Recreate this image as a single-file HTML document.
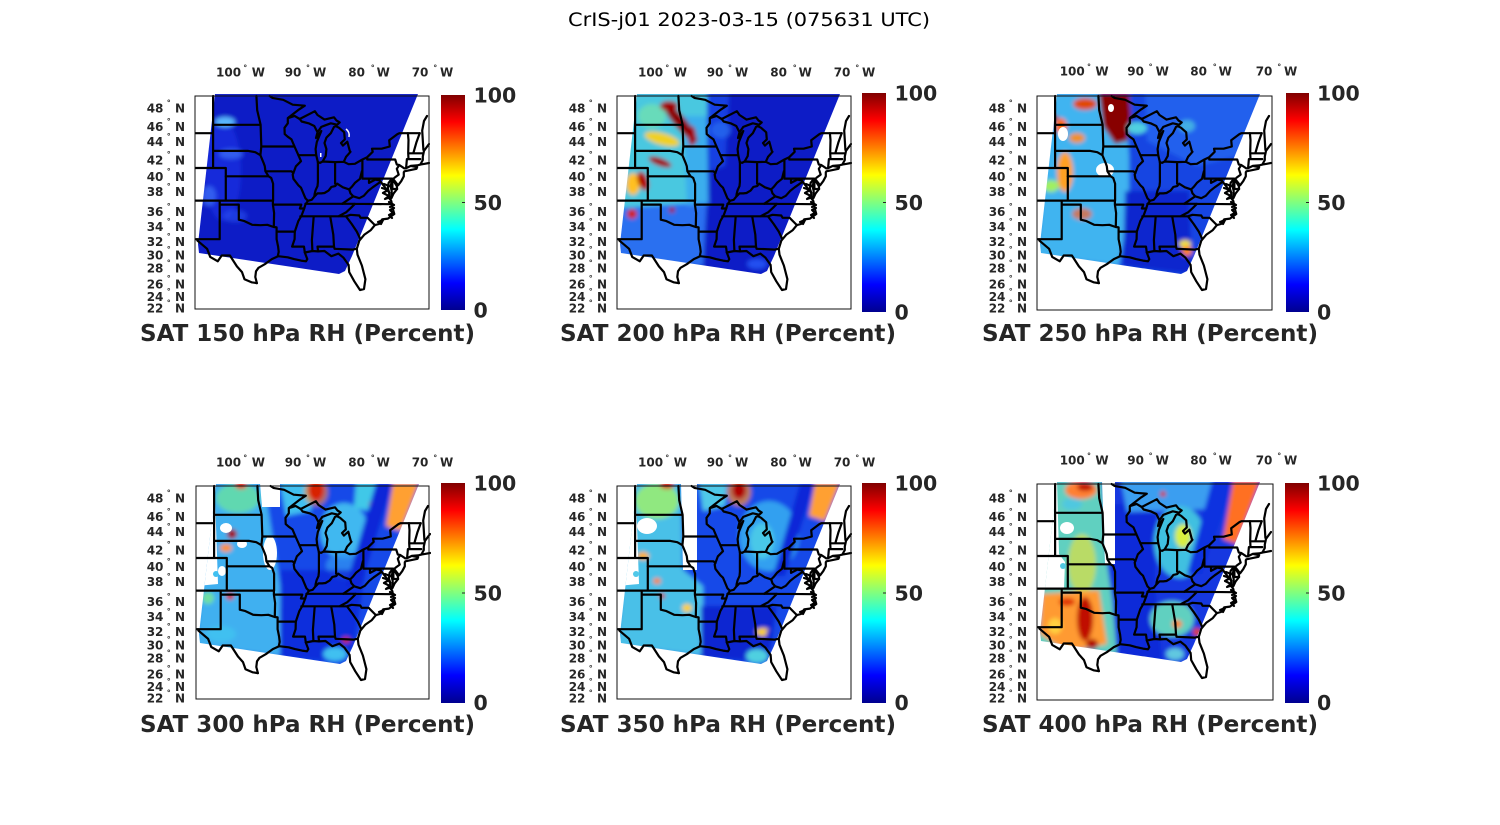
<!DOCTYPE html>
<html><head><meta charset="utf-8"><style>
html,body{margin:0;padding:0;background:#fff;}
svg{display:block;}
</style></head><body>
<svg width="1500" height="825" viewBox="0 0 1500 825" xmlns="http://www.w3.org/2000/svg" font-family="'DejaVu Sans','Liberation Sans',sans-serif">
<defs>
<linearGradient id="jet" x1="0" y1="1" x2="0" y2="0">
<stop offset="0" stop-color="#00008f"/><stop offset="0.125" stop-color="#0000ff"/><stop offset="0.375" stop-color="#00ffff"/><stop offset="0.625" stop-color="#ffff00"/><stop offset="0.875" stop-color="#ff0000"/><stop offset="1" stop-color="#800000"/>
</linearGradient>
<clipPath id="sw"><path d="M20,-2L223,-2L157,160L150,175L144,178L4,157L3,148Z"/></clipPath>
<clipPath id="ax"><rect x="0" y="-2" width="235" height="216"/></clipPath>
<filter id="bl" x="-10%" y="-10%" width="120%" height="120%"><feGaussianBlur stdDeviation="2"/></filter>
<g id="map" fill="none" stroke="#000" stroke-width="2.2" stroke-linejoin="round" stroke-linecap="round">
<path d="M0,37.2H18.1M18.1,0V72M0,72H30.8V104.6M0,104.6H77.9M24.7,104.6V143.2M24.7,108.6H43.8V123.7L48.9,124.9L57.1,128.8L65.4,129.2L72.3,128.8L78.7,131L81.6,131.4V143.2L83.1,150.6L83.7,155.8L82.8,160.2M0,143.2H24.4M1.9,143.2L2.5,144.7L12.1,152.8L15.2,160.9L22.8,165.3L26.7,159.5L34.9,159.5L41.9,170.4L47,176.1L49.5,183.2L56.5,186.3L61.9,187.1"/>
<path d="M61.9,187.1L60.3,181L61,175.3L63.5,171.8L69.8,168.2L76.8,163.1L83.1,160.2L92.7,161.3L99,163.1L106,164.6L111,165.3L112.3,163.1L109.8,156.5L117.4,155L123.1,155.4L129.5,155L136.4,160.2L143.4,157.6L148.5,161.7L153.6,168.9L154.2,176.1L159.3,185.3L165,194L169,193L170.4,183.2L166.9,169.6L162.5,158.7L161.8,152.8L164.3,144.7L169.4,138.6L175.8,134.1L179.9,129.1L184,128L187.2,123.4L192.9,122.6L199.3,118L197.3,110.9L196.4,105.4L196.1,104.6L194.2,102.2L194.2,96.6L192.9,92.6L193.6,86.9L195.5,84.4L196.7,86L195.5,90.1L196.7,95L196.4,102.2L198.6,97.4L202.1,93L201.8,90.1L199.3,86L198.6,83.6L203.1,89.3L206.2,85.2L208.8,80.3L208.8,76.2L209.4,75.3L221.5,72.8L222.1,71.2L215.8,69.9L210.7,72.4M215.8,69.9L222.1,69.4L225.3,68.6L229.7,67.8L234,67M225.3,68.6L227.8,64L227.8,60.5L229,54.9L232.8,49.6L234,48"/>
<path d="M187,92L193,94L188,97L194,100L190,103L196,101M199,112L195,114L198,117L194,119L197,122M194,106L199,109L195,111M189,88L194,90M183,126L188,124L186,128"/>
<path d="M18.1,28.8H65.6M61.4,0L62.2,14.3L65.6,28.8L66.3,50.5M18.1,54.9H53.3L60.3,56.2L65.4,59.2L68.6,66.9L69.8,70.3L70.4,75.3L73.6,80.3L76.2,81.9L78.1,87.7V104.6M66.3,50.5L65.4,59.2M66.3,50.5H99.5M30.8,80.3H73.6M70.4,75.3H96.5L98.4,77"/>
<path d="M93.9,21.3L92.8,22L92.8,27.3L89.5,31.8L89.7,38.1L92.7,40.7L96.5,43.4L99.5,50.5L103.4,59.2L106,65.2L100.9,70.3L98.4,77L97.7,78.6L98.4,82.8L103.4,89.3L106,91.7L110.4,102.2L112.9,104.8L110.4,108.6L109.2,112.5L106.6,119.5L103.4,124.9L99.8,135.6L99.6,143.2L97.1,150.6H109L109.8,156.5"/>
<path d="M77.9,108.6H106.3L104.9,112.5H109.2M77.9,104.6V108.6L79.1,117L78.8,130.8M81.6,135.6H99.8M105.3,120.3H151M118.7,120.3L116.9,143.9L117.4,155M135.2,120.3L138.3,138.6L139,150.6L139.6,152.8L158,153.6L161.2,152.8M122.5,150.6H139M122.5,150.6L123.1,155.4M151,120.3L156.7,128L161.8,135.6L165,142.4M151,120.3L155.5,118.8L164.3,119.5L165.6,121.8L172.6,121.8L179.9,129.1M159.9,107.8L156.1,111.7L151,116.4L143.4,120.3M110.4,107.8H159.9L196.7,108.2"/>
<path d="M112.9,104.8L116.7,103.8L119.3,100.6L122.5,97.4L126.3,97.4L129.5,97L133.6,94.6L136.4,90.9L140.2,90.1L142.2,87.7L147.9,91.3L154.2,93.4L156.7,90.9L159.9,86.9L165,82.8L166.9,75.3M122.9,66.1V86L122.5,90.1L120.6,94.2L119.6,98.2L119.3,100.6M103.4,59.2H121.2"/>
<path d="M122.9,66.1L121.2,59.2L120.6,53.1L121.8,46.1L126.3,35L121,42L122.5,36.3L119.3,30L113.6,27.3L106.6,25.5L104.7,23L99.6,19.9L93.9,21.8M93.9,21.3L104.1,13.4L109.8,9.7L97.7,8.7L88.2,3.8L77.4,1.9L74.6,0M104.7,23L119.9,15.2L122.5,19L129.5,23.6L139,21.3L141.5,24.5L144.7,26.4L142.2,28.7L135.8,27.3L130.7,29.2L126.3,30.9L122.5,36.3"/>
<path d="M122.9,66.1L125,66.9L127.6,65.5L130.7,60.1L131.4,53.1L129.5,47L131.4,41.6L135.8,37.2L139,30.9L140.9,30.1L144.1,31.8L149.2,36.3L149.8,43.4L146,47L147.9,49.6L152.3,45.7L154.8,54.9L155.5,55.8L151,60.9L148.8,65.8M127.6,65.5L140.2,66.1L148.8,65.8M140.1,66.1V87.7"/>
<path d="M148.8,65.8L153.6,68.2L159.9,67.8L167.4,63.5L172.2,61.2L177.7,55.8L177,52.7L186.6,52.7L194.8,50.5L194.2,44.3L202.4,38.1L204.3,37.2H224.7M167.4,63.5V82.6H197.4V93H202.1M172.2,61.2V63.5H200.2L201.8,68.6L204.3,69L209.4,72.4M204.3,69L201.8,72.8L203.7,78.6L199.3,81.9"/>
<path d="M174,82.6V86.9L180.2,83.6L184.7,84.4L188.4,89.3L194.2,96.6M185.3,86L177.7,91.3L173.2,94.9L168.8,99.8L164.3,102.2L158.2,100.3L147.2,107.8M154.2,93.4L155.5,97.4L158.2,100.3"/>
<path d="M211.1,72L211.9,63.1H225.3M213.5,63.1L213.2,57.1L213.5,44L212.9,37.2M213.4,57.3H227.2M218.3,57.3L221.5,46.1L224.7,37.2M228.4,53.9L227.2,34.5L229,25L232,20"/>
</g>
</defs>

<!-- Main title -->
<text x="568" y="26" font-size="19" fill="#000" textLength="362" lengthAdjust="spacingAndGlyphs">CrIS-j01 2023-03-15 (075631 UTC)</text>

<!-- ============ PANEL 1 ============ -->
<g transform="translate(195,96)">
<g clip-path="url(#sw)">
<g filter="url(#bl)">
<rect x="-5" y="-5" width="245" height="190" fill="#0b1bc6"/>
<ellipse cx="28" cy="75" rx="18" ry="50" fill="#1838e8" opacity=".6"/>
<ellipse cx="30" cy="26" rx="10" ry="5" fill="#5ab8ff"/>
<ellipse cx="36" cy="58" rx="12" ry="5" fill="#3a6af4" opacity=".8"/>
<ellipse cx="14" cy="100" rx="7" ry="10" fill="#3a6af4" opacity=".8"/>
<ellipse cx="40" cy="120" rx="12" ry="6" fill="#2a50f0" opacity=".6"/>
</g>
<path d="M151,33q4,3 3,8" stroke="#fff" stroke-width="1.5" fill="none"/>
<rect x="125" y="57" width="1.5" height="4" fill="#fff"/>
</g>
<g clip-path="url(#ax)"><use href="#map"/></g>
<rect x="0" y="0" width="234" height="213" fill="none" stroke="#111" stroke-width="1"/>
<g font-size="12" font-weight="bold" fill="#262626">
<text y="-19.5"><tspan x="21">100</tspan><tspan x="56.7">W</tspan><tspan x="89.7">90</tspan><tspan x="118">W</tspan><tspan x="153.3">80</tspan><tspan x="181.6">W</tspan><tspan x="216.7">70</tspan><tspan x="245">W</tspan></text>
<text><tspan x="-48.3" y="16.7">48</tspan><tspan x="-20" y="16.7">N</tspan><tspan x="-48.3" y="35.1">46</tspan><tspan x="-20" y="35.1">N</tspan><tspan x="-48.3" y="50.1">44</tspan><tspan x="-20" y="50.1">N</tspan><tspan x="-48.3" y="68.4">42</tspan><tspan x="-20" y="68.4">N</tspan><tspan x="-48.3" y="85.1">40</tspan><tspan x="-20" y="85.1">N</tspan><tspan x="-48.3" y="100.1">38</tspan><tspan x="-20" y="100.1">N</tspan><tspan x="-48.3" y="120.1">36</tspan><tspan x="-20" y="120.1">N</tspan><tspan x="-48.3" y="135.1">34</tspan><tspan x="-20" y="135.1">N</tspan><tspan x="-48.3" y="150.1">32</tspan><tspan x="-20" y="150.1">N</tspan><tspan x="-48.3" y="163.4">30</tspan><tspan x="-20" y="163.4">N</tspan><tspan x="-48.3" y="176.7">28</tspan><tspan x="-20" y="176.7">N</tspan><tspan x="-48.3" y="192.4">26</tspan><tspan x="-20" y="192.4">N</tspan><tspan x="-48.3" y="205.1">24</tspan><tspan x="-20" y="205.1">N</tspan><tspan x="-48.3" y="216.7">22</tspan><tspan x="-20" y="216.7">N</tspan></text>
</g>
<g font-size="8" font-weight="bold" fill="#262626">
<text y="-25.4"><tspan x="48.3">°</tspan><tspan x="111">°</tspan><tspan x="175.7">°</tspan><tspan x="238.3">°</tspan></text>
<text x="-28.3"><tspan x="-28.3" y="9.4">°</tspan><tspan x="-28.3" y="27.8">°</tspan><tspan x="-28.3" y="42.8">°</tspan><tspan x="-28.3" y="61.1">°</tspan><tspan x="-28.3" y="77.8">°</tspan><tspan x="-28.3" y="92.8">°</tspan><tspan x="-28.3" y="112.8">°</tspan><tspan x="-28.3" y="127.8">°</tspan><tspan x="-28.3" y="142.8">°</tspan><tspan x="-28.3" y="156.1">°</tspan><tspan x="-28.3" y="169.4">°</tspan><tspan x="-28.3" y="185.1">°</tspan><tspan x="-28.3" y="197.8">°</tspan><tspan x="-28.3" y="209.4">°</tspan></text>
</g>
</g>
<rect x="441" y="95" width="24" height="215" fill="url(#jet)"/>
<line x1="462" y1="202.5" x2="465" y2="202.5" stroke="#262626" stroke-width="1"/>
<g font-size="20.5" font-weight="bold" fill="#262626">
<text x="473.5" y="102.7">100</text><text x="473.5" y="210">50</text><text x="473.5" y="317.5">0</text>
</g>
<text x="140" y="341" font-size="22.8" font-weight="bold" fill="#262626" textLength="335" lengthAdjust="spacingAndGlyphs">SAT 150 hPa RH (Percent)</text>

<!-- ============ PANEL 2 ============ -->
<g transform="translate(617,96)">
<g clip-path="url(#sw)">
<g filter="url(#bl)">
<rect x="-5" y="-5" width="245" height="190" fill="#0b1bc6"/>
<path d="M0,100L90,100L86,170L0,165Z" fill="#2a70f0"/>
<path d="M15,-3L90,-3L90,106L3,112Z" fill="#48c8e0"/>
<path d="M66,20L90,20L92,108L70,110Z" fill="#38a8f0" opacity=".8"/>
<path d="M90,-3L112,-3L108,70L92,75Z" fill="#1a48e8" opacity=".8"/>
<ellipse cx="35" cy="20" rx="14" ry="12" fill="#70e0b0" opacity=".8"/>
<ellipse cx="45" cy="43" rx="18" ry="6" transform="rotate(15 45 43)" fill="#f0d020"/>
<ellipse cx="16" cy="88" rx="7" ry="11" fill="#ffc020"/>
<ellipse cx="63" cy="26" rx="6" ry="26" transform="rotate(-40 63 26)" fill="#8a0000"/>
<ellipse cx="52" cy="10" rx="9" ry="5" fill="#a00000"/>
<ellipse cx="75" cy="40" rx="4" ry="10" fill="#a00000"/>
<ellipse cx="43" cy="66" rx="12" ry="4" transform="rotate(20 43 66)" fill="#a00000"/>
<ellipse cx="26" cy="85" rx="5" ry="10" transform="rotate(-20 26 85)" fill="#b00000"/>
<ellipse cx="15" cy="118" rx="5" ry="5" fill="#d02000"/>
<ellipse cx="55" cy="114" rx="3" ry="3" fill="#a00000"/>
<ellipse cx="104" cy="34" rx="10" ry="8" fill="#2a70f0" opacity=".7"/>
<ellipse cx="140" cy="168" rx="10" ry="5" fill="#2050f0"/>
</g>
</g>
<g clip-path="url(#ax)"><use href="#map"/></g>
<rect x="0" y="0" width="234" height="213" fill="none" stroke="#111" stroke-width="1"/>
<g font-size="12" font-weight="bold" fill="#262626">
<text y="-19.5"><tspan x="21">100</tspan><tspan x="56.7">W</tspan><tspan x="89.7">90</tspan><tspan x="118">W</tspan><tspan x="153.3">80</tspan><tspan x="181.6">W</tspan><tspan x="216.7">70</tspan><tspan x="245">W</tspan></text>
<text><tspan x="-48.3" y="16.7">48</tspan><tspan x="-20" y="16.7">N</tspan><tspan x="-48.3" y="35.1">46</tspan><tspan x="-20" y="35.1">N</tspan><tspan x="-48.3" y="50.1">44</tspan><tspan x="-20" y="50.1">N</tspan><tspan x="-48.3" y="68.4">42</tspan><tspan x="-20" y="68.4">N</tspan><tspan x="-48.3" y="85.1">40</tspan><tspan x="-20" y="85.1">N</tspan><tspan x="-48.3" y="100.1">38</tspan><tspan x="-20" y="100.1">N</tspan><tspan x="-48.3" y="120.1">36</tspan><tspan x="-20" y="120.1">N</tspan><tspan x="-48.3" y="135.1">34</tspan><tspan x="-20" y="135.1">N</tspan><tspan x="-48.3" y="150.1">32</tspan><tspan x="-20" y="150.1">N</tspan><tspan x="-48.3" y="163.4">30</tspan><tspan x="-20" y="163.4">N</tspan><tspan x="-48.3" y="176.7">28</tspan><tspan x="-20" y="176.7">N</tspan><tspan x="-48.3" y="192.4">26</tspan><tspan x="-20" y="192.4">N</tspan><tspan x="-48.3" y="205.1">24</tspan><tspan x="-20" y="205.1">N</tspan><tspan x="-48.3" y="216.7">22</tspan><tspan x="-20" y="216.7">N</tspan></text>
</g>
<g font-size="8" font-weight="bold" fill="#262626">
<text y="-25.4"><tspan x="48.3">°</tspan><tspan x="111">°</tspan><tspan x="175.7">°</tspan><tspan x="238.3">°</tspan></text>
<text x="-28.3"><tspan x="-28.3" y="9.4">°</tspan><tspan x="-28.3" y="27.8">°</tspan><tspan x="-28.3" y="42.8">°</tspan><tspan x="-28.3" y="61.1">°</tspan><tspan x="-28.3" y="77.8">°</tspan><tspan x="-28.3" y="92.8">°</tspan><tspan x="-28.3" y="112.8">°</tspan><tspan x="-28.3" y="127.8">°</tspan><tspan x="-28.3" y="142.8">°</tspan><tspan x="-28.3" y="156.1">°</tspan><tspan x="-28.3" y="169.4">°</tspan><tspan x="-28.3" y="185.1">°</tspan><tspan x="-28.3" y="197.8">°</tspan><tspan x="-28.3" y="209.4">°</tspan></text>
</g>
</g>
<rect x="862" y="93" width="24" height="219" fill="url(#jet)"/>
<line x1="883" y1="202.5" x2="886" y2="202.5" stroke="#262626" stroke-width="1"/>
<g font-size="20.5" font-weight="bold" fill="#262626">
<text x="894.5" y="100.5">100</text><text x="894.5" y="210">50</text><text x="894.5" y="319.5">0</text>
</g>
<text x="560" y="341" font-size="22.8" font-weight="bold" fill="#262626" textLength="336" lengthAdjust="spacingAndGlyphs">SAT 200 hPa RH (Percent)</text>

<!-- ============ PANEL 3 ============ -->
<g transform="translate(1037,96)">
<g clip-path="url(#sw)">
<g filter="url(#bl)">
<rect x="-5" y="-5" width="245" height="190" fill="#1545e2"/>
<path d="M15,-3L88,-3L92,60L92,110L82,170L0,160Z" fill="#40b4f0"/>
<path d="M108,-3L226,-3L200,60L160,70L110,45Z" fill="#2a6ef2" opacity=".7"/>
<path d="M88,95L152,95L155,178L86,170Z" fill="#0a24cc" opacity=".9"/>
<path d="M62,-3L92,-3L94,20L90,45L78,48L66,30Z" fill="#880000"/>
<ellipse cx="48" cy="8" rx="12" ry="6" fill="#e04800"/>
<ellipse cx="24" cy="30" rx="6" ry="8" fill="#ff6a00"/>
<ellipse cx="18" cy="22" rx="3" ry="3" fill="#a00000"/>
<ellipse cx="28" cy="76" rx="8" ry="20" fill="#ffa020"/>
<ellipse cx="14" cy="90" rx="8" ry="6" fill="#a0f060"/>
<ellipse cx="40" cy="42" rx="8" ry="5" fill="#f09020"/>
<ellipse cx="45" cy="118" rx="10" ry="6" fill="#ff6020" opacity=".7"/>
<ellipse cx="100" cy="32" rx="10" ry="6" fill="#50d0e0"/>
<ellipse cx="150" cy="30" rx="8" ry="6" fill="#50d0e0" opacity=".7"/>
<ellipse cx="148" cy="148" rx="6" ry="4" fill="#f0e040"/>
<ellipse cx="150" cy="155" rx="5" ry="5" fill="#ff8000"/>
</g>
<ellipse cx="68" cy="74" rx="9" ry="7" fill="#fff"/>
<ellipse cx="26" cy="38" rx="5" ry="7" fill="#fff"/>
<ellipse cx="74" cy="12" rx="3" ry="4" fill="#fff"/>
</g>
<g clip-path="url(#ax)"><use href="#map"/></g>
<rect x="0" y="0" width="235" height="214" fill="none" stroke="#111" stroke-width="1"/>
<g font-size="12" font-weight="bold" fill="#262626">
<text y="-20.5"><tspan x="22.7">100</tspan><tspan x="58.4">W</tspan><tspan x="90.3">90</tspan><tspan x="118.6">W</tspan><tspan x="153.3">80</tspan><tspan x="181.6">W</tspan><tspan x="218.7">70</tspan><tspan x="247">W</tspan></text>
<text><tspan x="-48.3" y="16.7">48</tspan><tspan x="-20" y="16.7">N</tspan><tspan x="-48.3" y="35.1">46</tspan><tspan x="-20" y="35.1">N</tspan><tspan x="-48.3" y="50.1">44</tspan><tspan x="-20" y="50.1">N</tspan><tspan x="-48.3" y="68.4">42</tspan><tspan x="-20" y="68.4">N</tspan><tspan x="-48.3" y="85.1">40</tspan><tspan x="-20" y="85.1">N</tspan><tspan x="-48.3" y="100.1">38</tspan><tspan x="-20" y="100.1">N</tspan><tspan x="-48.3" y="120.1">36</tspan><tspan x="-20" y="120.1">N</tspan><tspan x="-48.3" y="135.1">34</tspan><tspan x="-20" y="135.1">N</tspan><tspan x="-48.3" y="150.1">32</tspan><tspan x="-20" y="150.1">N</tspan><tspan x="-48.3" y="163.4">30</tspan><tspan x="-20" y="163.4">N</tspan><tspan x="-48.3" y="176.7">28</tspan><tspan x="-20" y="176.7">N</tspan><tspan x="-48.3" y="192.4">26</tspan><tspan x="-20" y="192.4">N</tspan><tspan x="-48.3" y="205.1">24</tspan><tspan x="-20" y="205.1">N</tspan><tspan x="-48.3" y="216.7">22</tspan><tspan x="-20" y="216.7">N</tspan></text>
</g>
<g font-size="8" font-weight="bold" fill="#262626">
<text y="-26.4"><tspan x="50">°</tspan><tspan x="111.6">°</tspan><tspan x="175.7">°</tspan><tspan x="240.3">°</tspan></text>
<text x="-28.3"><tspan x="-28.3" y="9.4">°</tspan><tspan x="-28.3" y="27.8">°</tspan><tspan x="-28.3" y="42.8">°</tspan><tspan x="-28.3" y="61.1">°</tspan><tspan x="-28.3" y="77.8">°</tspan><tspan x="-28.3" y="92.8">°</tspan><tspan x="-28.3" y="112.8">°</tspan><tspan x="-28.3" y="127.8">°</tspan><tspan x="-28.3" y="142.8">°</tspan><tspan x="-28.3" y="156.1">°</tspan><tspan x="-28.3" y="169.4">°</tspan><tspan x="-28.3" y="185.1">°</tspan><tspan x="-28.3" y="197.8">°</tspan><tspan x="-28.3" y="209.4">°</tspan></text>
</g>
</g>
<rect x="1286" y="93" width="23" height="219" fill="url(#jet)"/>
<line x1="1306" y1="202.5" x2="1309" y2="202.5" stroke="#262626" stroke-width="1"/>
<g font-size="20.5" font-weight="bold" fill="#262626">
<text x="1317" y="100.5">100</text><text x="1317" y="210">50</text><text x="1317" y="319.5">0</text>
</g>
<text x="982" y="341" font-size="22.8" font-weight="bold" fill="#262626" textLength="336" lengthAdjust="spacingAndGlyphs">SAT 250 hPa RH (Percent)</text>

<!-- ============ PANEL 4 ============ -->
<g transform="translate(196,486)">
<g clip-path="url(#sw)">
<g filter="url(#bl)">
<rect x="-5" y="-5" width="245" height="190" fill="#1848e8"/>
<path d="M15,-3L68,-3L78,60L86,112L84,170L0,160Z" fill="#40b0f0"/>
<ellipse cx="42" cy="12" rx="22" ry="15" fill="#60d8b0"/>
<ellipse cx="45" cy="-1" rx="6" ry="4" fill="#e03000"/>
<ellipse cx="36" cy="48" rx="5" ry="5" fill="#a00000"/>
<ellipse cx="30" cy="62" rx="6" ry="4" fill="#ff9020"/>
<ellipse cx="34" cy="110" rx="4" ry="4" fill="#d01000"/>
<ellipse cx="12" cy="112" rx="6" ry="6" fill="#70e0a0"/>
<path d="M84,-3L118,-3L115,25L90,30Z" fill="#40c0f0"/>
<ellipse cx="120" cy="6" rx="12" ry="14" fill="#ff9020" opacity=".6"/>
<ellipse cx="120" cy="4" rx="8" ry="11" fill="#d82000"/>
<ellipse cx="148" cy="45" rx="24" ry="28" fill="#40b8f0"/>
<ellipse cx="150" cy="80" rx="20" ry="14" fill="#3090f0" opacity=".8"/>
<path d="M160,-3L182,-3L175,25L158,22Z" fill="#40c8e8"/>
<ellipse cx="177" cy="18" rx="4" ry="3" fill="#e03000"/>
<path d="M180,-3L197,-3L165,100L150,100Z" fill="#0a28d8"/>
<path d="M197,-3L223,-3L205,45L190,40Z" fill="#ffa030"/>
<path d="M84,84L170,84L158,160L150,176L84,172Z" fill="#0c28d8" opacity=".8"/>
<ellipse cx="139" cy="168" rx="12" ry="7" fill="#40c0f0"/>
<ellipse cx="150" cy="154" rx="4" ry="3" fill="#d02000"/>
<ellipse cx="25" cy="148" rx="15" ry="8" fill="#40c0f0"/>
</g>
<path d="M0,-3L18,-3L20,40L22,98L0,100Z" fill="#fff"/>
<circle cx="20" cy="88" r="3" fill="#40c0f0"/>
<path d="M64,-3L84,-3L84,21L66,21Z" fill="#fff"/>
<ellipse cx="74" cy="67" rx="7" ry="17" fill="#fff"/>
<ellipse cx="30" cy="42" rx="6" ry="5" fill="#fff"/>
<ellipse cx="46" cy="58" rx="5" ry="4" fill="#fff"/>
<ellipse cx="26" cy="85" rx="4" ry="5" fill="#fff"/>
</g>
<g clip-path="url(#ax)"><use href="#map"/></g>
<rect x="0" y="0" width="233" height="213" fill="none" stroke="#111" stroke-width="1"/>
<g font-size="12" font-weight="bold" fill="#262626">
<text y="-19.5"><tspan x="20">100</tspan><tspan x="55.7">W</tspan><tspan x="88.7">90</tspan><tspan x="117">W</tspan><tspan x="152.3">80</tspan><tspan x="180.6">W</tspan><tspan x="215.7">70</tspan><tspan x="244">W</tspan></text>
<text><tspan x="-49.3" y="16.7">48</tspan><tspan x="-21" y="16.7">N</tspan><tspan x="-49.3" y="35.1">46</tspan><tspan x="-21" y="35.1">N</tspan><tspan x="-49.3" y="50.1">44</tspan><tspan x="-21" y="50.1">N</tspan><tspan x="-49.3" y="68.4">42</tspan><tspan x="-21" y="68.4">N</tspan><tspan x="-49.3" y="85.1">40</tspan><tspan x="-21" y="85.1">N</tspan><tspan x="-49.3" y="100.1">38</tspan><tspan x="-21" y="100.1">N</tspan><tspan x="-49.3" y="120.1">36</tspan><tspan x="-21" y="120.1">N</tspan><tspan x="-49.3" y="135.1">34</tspan><tspan x="-21" y="135.1">N</tspan><tspan x="-49.3" y="150.1">32</tspan><tspan x="-21" y="150.1">N</tspan><tspan x="-49.3" y="163.4">30</tspan><tspan x="-21" y="163.4">N</tspan><tspan x="-49.3" y="176.7">28</tspan><tspan x="-21" y="176.7">N</tspan><tspan x="-49.3" y="192.4">26</tspan><tspan x="-21" y="192.4">N</tspan><tspan x="-49.3" y="205.1">24</tspan><tspan x="-21" y="205.1">N</tspan><tspan x="-49.3" y="216.7">22</tspan><tspan x="-21" y="216.7">N</tspan></text>
</g>
<g font-size="8" font-weight="bold" fill="#262626">
<text y="-25.4"><tspan x="47.3">°</tspan><tspan x="110">°</tspan><tspan x="174.7">°</tspan><tspan x="237.3">°</tspan></text>
<text x="-29.3"><tspan x="-29.3" y="9.4">°</tspan><tspan x="-29.3" y="27.8">°</tspan><tspan x="-29.3" y="42.8">°</tspan><tspan x="-29.3" y="61.1">°</tspan><tspan x="-29.3" y="77.8">°</tspan><tspan x="-29.3" y="92.8">°</tspan><tspan x="-29.3" y="112.8">°</tspan><tspan x="-29.3" y="127.8">°</tspan><tspan x="-29.3" y="142.8">°</tspan><tspan x="-29.3" y="156.1">°</tspan><tspan x="-29.3" y="169.4">°</tspan><tspan x="-29.3" y="185.1">°</tspan><tspan x="-29.3" y="197.8">°</tspan><tspan x="-29.3" y="209.4">°</tspan></text>
</g>
</g>
<rect x="441" y="483" width="24" height="220" fill="url(#jet)"/>
<line x1="462" y1="593" x2="465" y2="593" stroke="#262626" stroke-width="1"/>
<g font-size="20.5" font-weight="bold" fill="#262626">
<text x="473.5" y="490.5">100</text><text x="473.5" y="600.5">50</text><text x="473.5" y="710">0</text>
</g>
<text x="140" y="732" font-size="22.8" font-weight="bold" fill="#262626" textLength="335" lengthAdjust="spacingAndGlyphs">SAT 300 hPa RH (Percent)</text>

<!-- ============ PANEL 5 ============ -->
<g transform="translate(617,486)">
<g clip-path="url(#sw)">
<g filter="url(#bl)">
<rect x="-5" y="-5" width="245" height="190" fill="#1848e8"/>
<path d="M15,-3L64,-3L66,84L86,100L86,170L0,160Z" fill="#48c0e8"/>
<ellipse cx="40" cy="15" rx="22" ry="18" fill="#90e880"/>
<ellipse cx="50" cy="-1" rx="7" ry="4" fill="#d02000"/>
<ellipse cx="26" cy="70" rx="6" ry="4" fill="#ffb020"/>
<ellipse cx="40" cy="95" rx="4" ry="3" fill="#ff8000"/>
<ellipse cx="70" cy="122" rx="5" ry="4" fill="#ffd020"/>
<ellipse cx="45" cy="110" rx="3" ry="3" fill="#c01000"/>
<ellipse cx="122" cy="6" rx="12" ry="14" fill="#ff9020" opacity=".7"/>
<ellipse cx="122" cy="4" rx="7" ry="9" fill="#b00000"/>
<path d="M82,-3L110,-3L108,20L86,25Z" fill="#50c8e8"/>
<ellipse cx="152" cy="50" rx="30" ry="35" fill="#30a0f0"/>
<ellipse cx="145" cy="55" rx="12" ry="18" fill="#48c8e8"/>
<path d="M183,-3L198,-3L168,90L156,90Z" fill="#0a28d8"/>
<path d="M198,-3L223,-3L208,35L192,30Z" fill="#ffa030"/>
<path d="M84,120L160,120L152,176L84,172Z" fill="#0a22cc" opacity=".85"/>
<ellipse cx="140" cy="170" rx="11" ry="7" fill="#50d0e0"/>
<ellipse cx="146" cy="146" rx="7" ry="4" fill="#ffd020"/>
<circle cx="152" cy="147" r="3" fill="#0a28d8"/>
</g>
<path d="M0,-3L18,-3L20,40L22,98L0,100Z" fill="#fff"/>
<circle cx="19" cy="88" r="3" fill="#50c8e8"/>
<path d="M64,-3L80,-3L80,84L66,84Z" fill="#fff"/>
<ellipse cx="30" cy="40" rx="10" ry="8" fill="#fff"/>
</g>
<g clip-path="url(#ax)"><use href="#map"/></g>
<rect x="0" y="0" width="234" height="213" fill="none" stroke="#111" stroke-width="1"/>
<g font-size="12" font-weight="bold" fill="#262626">
<text y="-19.5"><tspan x="21">100</tspan><tspan x="56.7">W</tspan><tspan x="89.7">90</tspan><tspan x="118">W</tspan><tspan x="153.3">80</tspan><tspan x="181.6">W</tspan><tspan x="216.7">70</tspan><tspan x="245">W</tspan></text>
<text><tspan x="-48.3" y="16.7">48</tspan><tspan x="-20" y="16.7">N</tspan><tspan x="-48.3" y="35.1">46</tspan><tspan x="-20" y="35.1">N</tspan><tspan x="-48.3" y="50.1">44</tspan><tspan x="-20" y="50.1">N</tspan><tspan x="-48.3" y="68.4">42</tspan><tspan x="-20" y="68.4">N</tspan><tspan x="-48.3" y="85.1">40</tspan><tspan x="-20" y="85.1">N</tspan><tspan x="-48.3" y="100.1">38</tspan><tspan x="-20" y="100.1">N</tspan><tspan x="-48.3" y="120.1">36</tspan><tspan x="-20" y="120.1">N</tspan><tspan x="-48.3" y="135.1">34</tspan><tspan x="-20" y="135.1">N</tspan><tspan x="-48.3" y="150.1">32</tspan><tspan x="-20" y="150.1">N</tspan><tspan x="-48.3" y="163.4">30</tspan><tspan x="-20" y="163.4">N</tspan><tspan x="-48.3" y="176.7">28</tspan><tspan x="-20" y="176.7">N</tspan><tspan x="-48.3" y="192.4">26</tspan><tspan x="-20" y="192.4">N</tspan><tspan x="-48.3" y="205.1">24</tspan><tspan x="-20" y="205.1">N</tspan><tspan x="-48.3" y="216.7">22</tspan><tspan x="-20" y="216.7">N</tspan></text>
</g>
<g font-size="8" font-weight="bold" fill="#262626">
<text y="-25.4"><tspan x="48.3">°</tspan><tspan x="111">°</tspan><tspan x="175.7">°</tspan><tspan x="238.3">°</tspan></text>
<text x="-28.3"><tspan x="-28.3" y="9.4">°</tspan><tspan x="-28.3" y="27.8">°</tspan><tspan x="-28.3" y="42.8">°</tspan><tspan x="-28.3" y="61.1">°</tspan><tspan x="-28.3" y="77.8">°</tspan><tspan x="-28.3" y="92.8">°</tspan><tspan x="-28.3" y="112.8">°</tspan><tspan x="-28.3" y="127.8">°</tspan><tspan x="-28.3" y="142.8">°</tspan><tspan x="-28.3" y="156.1">°</tspan><tspan x="-28.3" y="169.4">°</tspan><tspan x="-28.3" y="185.1">°</tspan><tspan x="-28.3" y="197.8">°</tspan><tspan x="-28.3" y="209.4">°</tspan></text>
</g>
</g>
<rect x="862" y="483" width="24" height="220" fill="url(#jet)"/>
<line x1="883" y1="593" x2="886" y2="593" stroke="#262626" stroke-width="1"/>
<g font-size="20.5" font-weight="bold" fill="#262626">
<text x="894.5" y="490.5">100</text><text x="894.5" y="600.5">50</text><text x="894.5" y="710">0</text>
</g>
<text x="560" y="732" font-size="22.8" font-weight="bold" fill="#262626" textLength="336" lengthAdjust="spacingAndGlyphs">SAT 350 hPa RH (Percent)</text>

<!-- ============ PANEL 6 ============ -->
<g transform="translate(1037,484)">
<g clip-path="url(#sw)">
<g filter="url(#bl)">
<rect x="-5" y="-5" width="245" height="190" fill="#1238e0"/>
<path d="M15,-3L65,-3L70,80L76,120L80,170L0,160Z" fill="#60d0c0"/>
<ellipse cx="45" cy="80" rx="14" ry="30" fill="#e0e040" opacity=".7"/>
<ellipse cx="44" cy="6" rx="16" ry="9" fill="#ff8030"/>
<ellipse cx="48" cy="3" rx="8" ry="4" fill="#c01000"/>
<ellipse cx="35" cy="20" rx="10" ry="6" fill="#50c8e0"/>
<path d="M5,110L62,106L70,160L30,168L3,150Z" fill="#ff9a30"/>
<ellipse cx="48" cy="135" rx="8" ry="22" fill="#c01000"/>
<ellipse cx="30" cy="118" rx="8" ry="4" fill="#e03000"/>
<ellipse cx="55" cy="160" rx="6" ry="5" fill="#b00000"/>
<ellipse cx="18" cy="142" rx="7" ry="8" fill="#ffd040"/>
<path d="M72,20L118,20L118,100L125,176L80,172L74,100Z" fill="#0c2cd8"/>
<path d="M84,-3L175,-3L170,25L90,28Z" fill="#3a9ef0"/>
<ellipse cx="143" cy="58" rx="26" ry="36" fill="#40c0e0"/>
<ellipse cx="146" cy="52" rx="8" ry="12" fill="#d8f040"/>
<ellipse cx="126" cy="10" rx="3" ry="3" fill="#d02000"/>
<path d="M175,-3L196,-3L165,90L150,90Z" fill="#1030e0"/>
<path d="M196,-3L223,-3L200,60L186,55Z" fill="#ff7020"/>
<ellipse cx="135" cy="135" rx="22" ry="18" fill="#60d0c0"/>
<ellipse cx="140" cy="140" rx="5" ry="4" fill="#ff8020"/>
<ellipse cx="160" cy="148" rx="4" ry="4" fill="#e04000"/>
<ellipse cx="138" cy="170" rx="9" ry="6" fill="#60c8e0"/>
</g>
<path d="M0,-3L20,-3L22,70L28,78L27,105L0,105Z" fill="#fff"/>
<circle cx="26" cy="82" r="3" fill="#50c8e0"/>
<path d="M65,-3L78,-3L78,80L68,80Z" fill="#fff"/>
<ellipse cx="30" cy="44" rx="7" ry="6" fill="#fff"/>
</g>
<g clip-path="url(#ax)"><use href="#map"/></g>
<rect x="0" y="0" width="236" height="216" fill="none" stroke="#111" stroke-width="1"/>
<g font-size="12" font-weight="bold" fill="#262626">
<text y="-19.5"><tspan x="22.7">100</tspan><tspan x="58.4">W</tspan><tspan x="90.3">90</tspan><tspan x="118.6">W</tspan><tspan x="153.3">80</tspan><tspan x="181.6">W</tspan><tspan x="218.7">70</tspan><tspan x="247">W</tspan></text>
<text><tspan x="-48.3" y="18.7">48</tspan><tspan x="-20" y="18.7">N</tspan><tspan x="-48.3" y="37.1">46</tspan><tspan x="-20" y="37.1">N</tspan><tspan x="-48.3" y="52.1">44</tspan><tspan x="-20" y="52.1">N</tspan><tspan x="-48.3" y="70.4">42</tspan><tspan x="-20" y="70.4">N</tspan><tspan x="-48.3" y="87.1">40</tspan><tspan x="-20" y="87.1">N</tspan><tspan x="-48.3" y="102.1">38</tspan><tspan x="-20" y="102.1">N</tspan><tspan x="-48.3" y="122.1">36</tspan><tspan x="-20" y="122.1">N</tspan><tspan x="-48.3" y="137.1">34</tspan><tspan x="-20" y="137.1">N</tspan><tspan x="-48.3" y="152.1">32</tspan><tspan x="-20" y="152.1">N</tspan><tspan x="-48.3" y="165.4">30</tspan><tspan x="-20" y="165.4">N</tspan><tspan x="-48.3" y="178.7">28</tspan><tspan x="-20" y="178.7">N</tspan><tspan x="-48.3" y="194.4">26</tspan><tspan x="-20" y="194.4">N</tspan><tspan x="-48.3" y="207.1">24</tspan><tspan x="-20" y="207.1">N</tspan><tspan x="-48.3" y="218.7">22</tspan><tspan x="-20" y="218.7">N</tspan></text>
</g>
<g font-size="8" font-weight="bold" fill="#262626">
<text y="-25.4"><tspan x="50">°</tspan><tspan x="111.6">°</tspan><tspan x="175.7">°</tspan><tspan x="240.3">°</tspan></text>
<text x="-28.3"><tspan x="-28.3" y="11.4">°</tspan><tspan x="-28.3" y="29.8">°</tspan><tspan x="-28.3" y="44.8">°</tspan><tspan x="-28.3" y="63.1">°</tspan><tspan x="-28.3" y="79.8">°</tspan><tspan x="-28.3" y="94.8">°</tspan><tspan x="-28.3" y="114.8">°</tspan><tspan x="-28.3" y="129.8">°</tspan><tspan x="-28.3" y="144.8">°</tspan><tspan x="-28.3" y="158.1">°</tspan><tspan x="-28.3" y="171.4">°</tspan><tspan x="-28.3" y="187.1">°</tspan><tspan x="-28.3" y="199.8">°</tspan><tspan x="-28.3" y="211.4">°</tspan></text>
</g>
</g>
<rect x="1285" y="483" width="24" height="220" fill="url(#jet)"/>
<line x1="1306" y1="593" x2="1309" y2="593" stroke="#262626" stroke-width="1"/>
<g font-size="20.5" font-weight="bold" fill="#262626">
<text x="1317" y="490.5">100</text><text x="1317" y="600.5">50</text><text x="1317" y="710">0</text>
</g>
<text x="982" y="732" font-size="22.8" font-weight="bold" fill="#262626" textLength="336" lengthAdjust="spacingAndGlyphs">SAT 400 hPa RH (Percent)</text>
</svg>
</body></html>
